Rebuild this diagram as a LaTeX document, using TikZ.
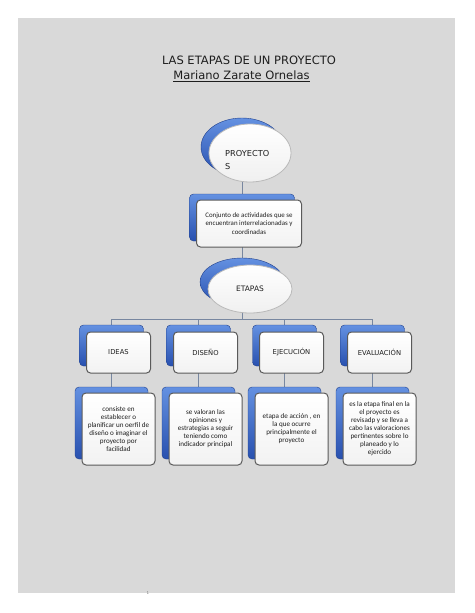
\documentclass[tikz,border=0pt]{standalone}
\usepackage{fontspec}
\setmainfont{DejaVu Sans}
\newfontfamily\carl{Carlito}
\usetikzlibrary{shapes.geometric,backgrounds}
\definecolor{pagegray}{RGB}{217,217,217}
\definecolor{bluetop}{RGB}{100,145,225}
\definecolor{bluebot}{RGB}{40,80,175}
\definecolor{linec}{RGB}{120,135,160}
\definecolor{frameg}{RGB}{90,90,90}
\definecolor{txt}{RGB}{30,30,30}
\tikzset{
  backbox/.style={rectangle, rounded corners=4pt, top color=bluetop, bottom color=bluebot, draw=bluebot!80!black, line width=0.4pt, inner sep=0pt},
  frontbox/.style={rectangle, rounded corners=4pt, top color=white, bottom color=gray!10, draw=frameg, line width=1pt, inner sep=0pt, align=center, text=txt},
  backell/.style={ellipse, top color=bluetop, bottom color=bluebot, draw=bluebot!80!black, line width=0.4pt, inner sep=0pt},
  frontell/.style={ellipse, top color=white, bottom color=gray!12, draw=gray!55, line width=0.8pt, inner sep=0pt, text=txt},
  conn/.style={draw=linec, line width=0.8pt},
  lab/.style={font=\fontsize{6.8}{8}\selectfont},
  desc/.style={font=\carl\fontsize{7.1}{8}\selectfont, align=center},
  upbox/.style={minimum width=64pt, minimum height=41pt},
  lowbox/.style={minimum width=73pt, minimum height=72pt},
}
\pgfdeclarelayer{bg}
\pgfsetlayers{bg,main}
\begin{document}
\begin{tikzpicture}[x=1pt,y=1pt]
\useasboundingbox (0,0) rectangle (474,-613);
\begin{pgfonlayer}{bg}
\fill[white] (0,0) rectangle (474,-613);
\fill[pagegray] (18,-18) rectangle (455,-593);
\end{pgfonlayer}

\node[font=\fontsize{11.5}{14}\selectfont, text=txt] (title) at (249,-60) {LAS ETAPAS DE UN PROYECTO};
\node[font=\fontsize{11.5}{14}\selectfont, text=txt] (author) at (241.5,-76) {\underline{Mariano Zarate Ornelas}};

% PROYECTOS
\node[backell, minimum width=82pt, minimum height=58pt] (proyB) at (242,-147) {};
\node[frontell, minimum width=82pt, minimum height=58pt] (proy) at (250,-153) {};
\node[font=\fontsize{8.2}{13}\selectfont, align=left, anchor=west, text=txt, inner sep=0pt] (proyT) at (225,-160) {PROYECTO\\S};

% Conjunto
\node[backbox, minimum width=105pt, minimum height=47pt] (conjB) at (242,-217.5) {};
\node[frontbox, font=\carl\fontsize{6.9}{8.3}\selectfont, minimum width=105pt, minimum height=47pt] (conj) at (249,-223.5) {Conjunto de actividades que se\\encuentran interrelacionadas y\\coordinadas};

% ETAPAS
\node[backell, minimum width=84pt, minimum height=48pt] (etB) at (242,-282) {};
\node[frontell, font=\fontsize{7.5}{9}\selectfont, minimum width=84pt, minimum height=48pt] (et) at (250,-289) {ETAPAS};

\coordinate (bus) at (0,-319);

% upper boxes
\node[backbox, upbox] (ideasB) at (111.5,-345.5) {};
\node[frontbox, upbox, lab] (ideas) at (118.5,-352.5) {IDEAS};
\node[backbox, upbox] (disB) at (198.5,-345.5) {};
\node[frontbox, upbox, lab] (dis) at (205.5,-352.5) {DISEÑO};
\node[backbox, upbox] (ejeB) at (284.5,-345.5) {};
\node[frontbox, upbox, lab] (eje) at (291.5,-352.5) {EJECUCIÓN};
\node[backbox, upbox] (evaB) at (372.5,-345.5) {};
\node[frontbox, upbox, lab] (eva) at (379.5,-352.5) {EVALUACIÓN};

% lower boxes
\node[backbox, lowbox] (ideasDB) at (111.5,-423) {};
\node[frontbox, lowbox, desc] (ideasD) at (118.5,-429) {consiste en\\establecer o\\planificar un oerfil de\\diseño o imaginar el\\proyecto por\\facilidad};
\node[backbox, lowbox] (disDB) at (198.5,-423) {};
\node[frontbox, lowbox, desc] (disD) at (205.5,-429) {se valoran las\\opiniones y\\estrategias a seguir\\teniendo como\\indicador principal};
\node[backbox, lowbox] (ejeDB) at (284.5,-423) {};
\node[frontbox, lowbox, desc] (ejeD) at (291.5,-429) {etapa de acción , en\\la que ocurre\\principalmente el\\proyecto};
\node[backbox, lowbox] (evaDB) at (372.5,-423) {};
\node[frontbox, lowbox, desc] (evaD) at (379.5,-429) {es la etapa final en la\\el proyecto es\\revisadp y se lleva a\\cabo las valoraciones\\pertinentes sobre lo\\planeado y lo\\ejercido};

\begin{pgfonlayer}{bg}
\draw[conn] (proyB.center) -- (conjB.center);
\draw[conn] (conjB.center) -- (etB.center);
\draw[conn] (etB.center) |- (ideasB.center |- bus) -- (ideasB.center);
\draw[conn] (etB.center) |- (disB.center |- bus) -- (disB.center);
\draw[conn] (etB.center) |- (ejeB.center |- bus) -- (ejeB.center);
\draw[conn] (etB.center) |- (evaB.center |- bus) -- (evaB.center);
\draw[conn] (ideasB.center) -- (ideasDB.center);
\draw[conn] (disB.center) -- (disDB.center);
\draw[conn] (ejeB.center) -- (ejeDB.center);
\draw[conn] (evaB.center) -- (evaDB.center);
\end{pgfonlayer}

\node[font=\fontsize{4}{4}\selectfont, text=gray] (pnum) at (148,-593) {1};
\end{tikzpicture}
\end{document}
